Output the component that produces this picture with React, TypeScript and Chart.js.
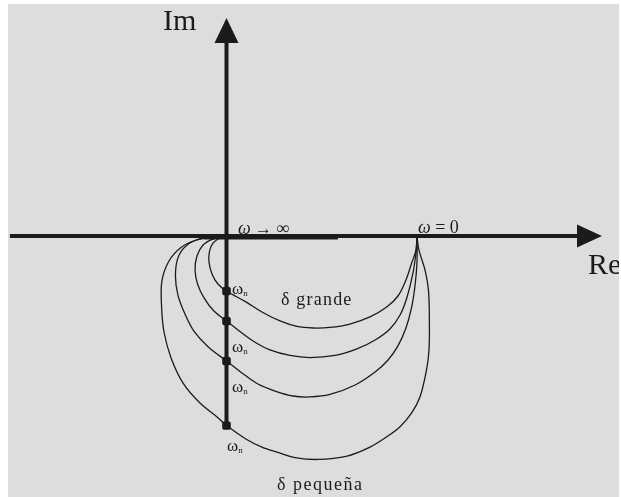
import React, { useEffect, useRef } from "react";
import { Chart, registerables } from "chart.js";

Chart.register(...registerables);

// Nyquist locus of a second-order system, G(0) = 1, for four damping ratios.
// Each curve runs from ω = 0 at (1, 0) to ω → ∞ at the origin. Pairs are [Re, Im].
const curveDeltaLarge: [number, number][] = [
  [1.0, 0], [0.995, -0.073], [0.972, -0.142], [0.942, -0.231], [0.9, -0.315],
  [0.841, -0.373], [0.753, -0.425], [0.648, -0.462], [0.543, -0.48], [0.454, -0.483],
  [0.37, -0.475], [0.281, -0.446], [0.186, -0.399], [0.102, -0.346], [0, -0.289],
  [-0.045, -0.252], [-0.076, -0.199], [-0.092, -0.136], [-0.089, -0.079],
  [-0.071, -0.037], [-0.039, -0.013], [0, 0],
];

const curveDeltaMidHigh: [number, number][] = [
  [1.0, 0], [0.995, -0.084], [0.979, -0.194], [0.948, -0.32], [0.911, -0.415],
  [0.858, -0.488], [0.78, -0.546], [0.685, -0.593], [0.57, -0.627], [0.438, -0.638],
  [0.333, -0.627], [0.228, -0.598], [0.139, -0.551], [0.06, -0.493], [0, -0.446],
  [-0.066, -0.394], [-0.118, -0.325], [-0.152, -0.252], [-0.165, -0.178],
  [-0.155, -0.105], [-0.123, -0.047], [-0.071, -0.016], [0, 0],
];

const curveDeltaMidLow: [number, number][] = [
  [1.0, 0], [1.0, -0.136], [0.99, -0.257], [0.972, -0.373], [0.942, -0.483],
  [0.9, -0.577], [0.848, -0.651], [0.78, -0.714], [0.675, -0.782], [0.543, -0.832],
  [0.438, -0.845], [0.349, -0.84], [0.255, -0.814], [0.165, -0.777], [0.081, -0.719],
  [0, -0.656], [-0.097, -0.581], [-0.171, -0.499], [-0.218, -0.409], [-0.255, -0.31],
  [-0.268, -0.21], [-0.255, -0.115], [-0.213, -0.052], [-0.144, -0.018], [0, 0],
];

const curveDeltaSmall: [number, number][] = [
  [1.0, 0], [1.01, -0.073], [1.042, -0.178], [1.06, -0.283], [1.065, -0.441],
  [1.063, -0.598], [1.05, -0.703], [1.016, -0.844], [0.972, -0.929], [0.911, -1.001],
  [0.841, -1.054], [0.753, -1.108], [0.633, -1.155], [0.48, -1.173], [0.36, -1.163],
  [0.27, -1.136], [0.186, -1.108], [0.106, -1.068], [0, -0.995], [-0.051, -0.949],
  [-0.139, -0.877], [-0.228, -0.772], [-0.291, -0.64], [-0.328, -0.504],
  [-0.341, -0.367], [-0.339, -0.236], [-0.302, -0.131], [-0.239, -0.06],
  [-0.16, -0.021], [-0.076, -0.005], [0, 0],
];

// Imaginary-axis crossings, ω = ωn
const crossingIm = [-0.289, -0.446, -0.656, -0.995];

// Visible window and axis extents (Re, Im units)
const X_RANGE = [-1.147, 2.0604];
const Y_RANGE = [-1.3701, 1.2178];
const RE_AXIS = [-1.137, 1.971];
const IM_AXIS = [-1.008, 1.144];
const RE_AXIS_HEAVY = [-0.12, 0.585];

const INK = "#1b1b1b";
const SERIF = "'Liberation Serif', 'DejaVu Serif', serif";

const W = 611;
const H = 493;

function arrowHead(
  ctx: CanvasRenderingContext2D,
  tipX: number,
  tipY: number,
  dx: number,
  dy: number,
  len: number,
  half: number
) {
  const bx = tipX - dx * len;
  const by = tipY - dy * len;
  ctx.beginPath();
  ctx.moveTo(tipX, tipY);
  ctx.lineTo(bx - dy * half, by + dx * half);
  ctx.lineTo(bx + dy * half, by - dx * half);
  ctx.closePath();
  ctx.fill();
}

// Draws a run of text pieces, each with its own font, left to right
function textRun(
  ctx: CanvasRenderingContext2D,
  x: number,
  y: number,
  pieces: [string, string][]
) {
  let cx = x;
  for (const [text, font] of pieces) {
    ctx.font = font;
    ctx.fillText(text, cx, y);
    cx += ctx.measureText(text).width;
  }
}

const nyquistDecor = {
  id: "nyquistDecor",
  beforeDraw(chart: any) {
    const { ctx, width, height } = chart;
    ctx.save();
    ctx.fillStyle = "#dddddd";
    ctx.fillRect(0, 0, width, height);
    ctx.restore();
  },
  beforeDatasetsDraw(chart: any) {
    const { ctx } = chart;
    const xs = chart.scales.x;
    const ys = chart.scales.y;
    ctx.save();
    ctx.fillStyle = INK;
    ctx.textBaseline = "alphabetic";
    textRun(ctx, xs.getPixelForValue(0.06), ys.getPixelForValue(0.012), [
      ["ω", `italic 18px ${SERIF}`],
      [" → ", `17px ${SERIF}`],
      ["∞", `18px ${SERIF}`],
    ]);
    ctx.restore();
  },
  afterDatasetsDraw(chart: any) {
    const { ctx } = chart;
    const xs = chart.scales.x;
    const ys = chart.scales.y;
    const px = (v: number) => xs.getPixelForValue(v);
    const py = (v: number) => ys.getPixelForValue(v);
    const x0 = px(0);
    const y0 = py(0);

    ctx.save();
    ctx.strokeStyle = INK;
    ctx.fillStyle = INK;
    ctx.lineCap = "butt";

    // Real axis
    const reTip = px(RE_AXIS[1]);
    ctx.lineWidth = 4;
    ctx.beginPath();
    ctx.moveTo(px(RE_AXIS[0]), y0);
    ctx.lineTo(reTip - 20, y0);
    ctx.stroke();
    ctx.lineWidth = 2;
    ctx.beginPath();
    ctx.moveTo(px(RE_AXIS_HEAVY[0]), y0 + 2.5);
    ctx.lineTo(px(RE_AXIS_HEAVY[1]), y0 + 2.5);
    ctx.stroke();
    arrowHead(ctx, reTip, y0, 1, 0, 25, 11.5);

    // Imaginary axis
    const imTip = py(IM_AXIS[1]);
    ctx.lineWidth = 4;
    ctx.beginPath();
    ctx.moveTo(x0, py(IM_AXIS[0]));
    ctx.lineTo(x0, imTip + 20);
    ctx.stroke();
    arrowHead(ctx, x0, imTip, 0, -1, 25, 12);

    ctx.textBaseline = "alphabetic";

    // Axis names
    ctx.font = `30px ${SERIF}`;
    ctx.fillText("Im", px(-0.333), py(1.081));
    ctx.fillText("Re", px(1.898), py(-0.199));

    // ω = 0 marker
    textRun(ctx, px(1.005), py(0.016), [
      ["ω", `italic 18px ${SERIF}`],
      [" = 0", `18px ${SERIF}`],
    ]);

    // Damping annotations
    ctx.font = `18px ${SERIF}`;
    (ctx as any).letterSpacing = "1.2px";
    ctx.fillText("δ grande", px(0.286), py(-0.362));
    (ctx as any).letterSpacing = "1.5px";
    ctx.fillText("δ pequeña", px(0.265), py(-1.333));
    (ctx as any).letterSpacing = "0px";

    // ωn labels beside the crossings
    const wnLabels: [number, number][] = [
      [0.029, -0.304],
      [0.029, -0.609],
      [0.029, -0.819],
      [0.003, -1.129],
    ];
    for (const [lx, ly] of wnLabels) {
      const ax = px(lx);
      const ay = py(ly);
      ctx.font = `17px ${SERIF}`;
      ctx.fillText("ω", ax, ay);
      const w = ctx.measureText("ω").width;
      ctx.font = `9px ${SERIF}`;
      ctx.fillText("n", ax + w, ay + 2);
    }
    ctx.restore();
  },
};

export default function App() {
  const canvasRef = useRef<HTMLCanvasElement | null>(null);

  useEffect(() => {
    const canvas = canvasRef.current;
    if (!canvas) return;

    const curveStyle = {
      showLine: true,
      borderColor: INK,
      borderWidth: 1.3,
      pointRadius: 0,
      tension: 0.35,
      fill: false,
    };

    const toXY = (pts: [number, number][]) => pts.map(([x, y]) => ({ x, y }));

    const chart = new Chart(canvas, {
      type: "scatter",
      data: {
        datasets: [
          { ...curveStyle, label: "δ grande", data: toXY(curveDeltaLarge) },
          { ...curveStyle, label: "δ media alta", data: toXY(curveDeltaMidHigh) },
          { ...curveStyle, label: "δ media baja", data: toXY(curveDeltaMidLow) },
          { ...curveStyle, label: "δ pequeña", data: toXY(curveDeltaSmall) },
          {
            label: "ωn",
            data: crossingIm.map((y) => ({ x: 0, y })),
            showLine: false,
            pointStyle: "rectRounded",
            pointRadius: 5,
            pointBackgroundColor: INK,
            pointBorderColor: INK,
            pointBorderWidth: 0,
          },
        ],
      },
      options: {
        responsive: false,
        animation: false,
        events: [],
        layout: { padding: 0, autoPadding: false },
        scales: {
          x: { type: "linear", min: X_RANGE[0], max: X_RANGE[1], display: false },
          y: { type: "linear", min: Y_RANGE[0], max: Y_RANGE[1], display: false },
        },
        plugins: {
          legend: { display: false },
          tooltip: { enabled: false },
        },
      },
      plugins: [nyquistDecor],
    });

    return () => chart.destroy();
  }, []);

  return (
    <div style={{ position: "fixed", left: 8, top: 4, width: W, height: H }}>
      <canvas ref={canvasRef} width={W} height={H} style={{ display: "block" }} />
    </div>
  );
}
